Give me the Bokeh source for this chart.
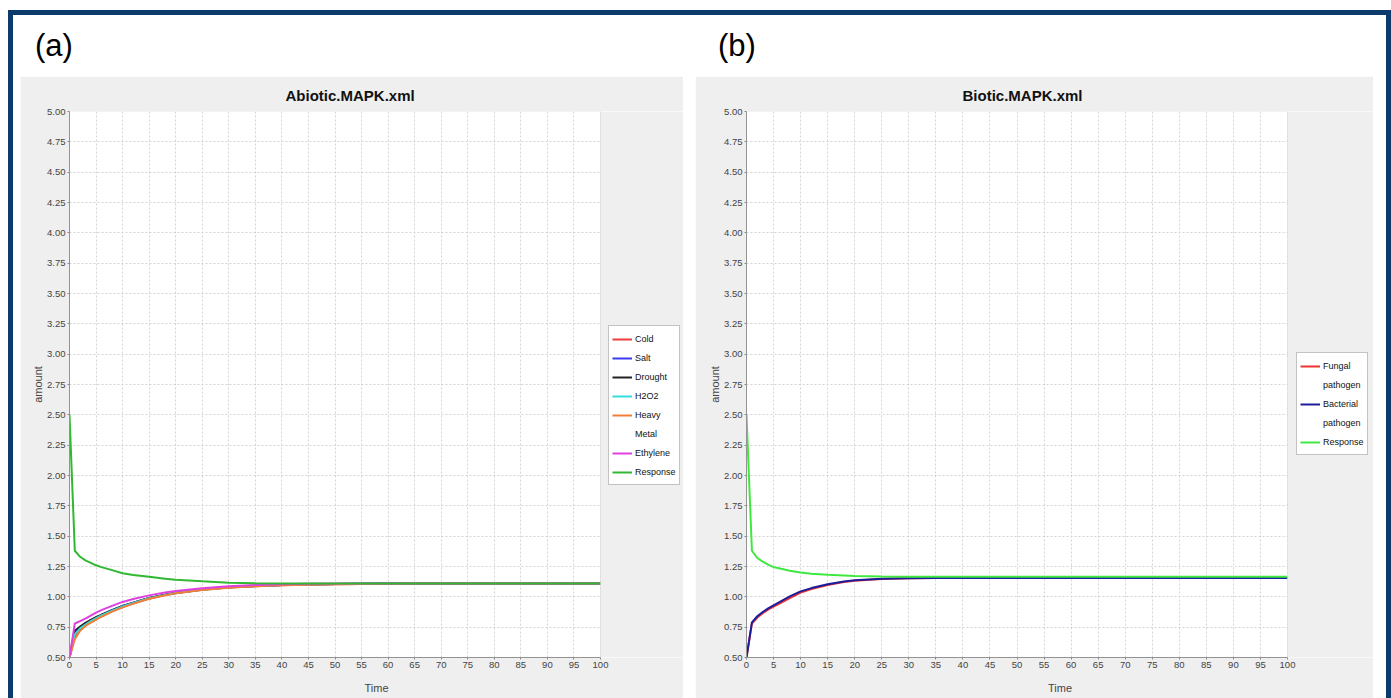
from bokeh.plotting import figure
from bokeh.models import (FixedTicker, NumeralTickFormatter, Legend, LegendItem,
                          Div, Title, Range1d, BoxAnnotation)
from bokeh.layouts import column, row
from bokeh.embed import file_html
from bokeh.resources import INLINE

# ---------------- data ----------------
time = [0, 1, 2, 3, 4, 5, 6, 8, 10, 12, 15, 18, 20, 25, 30, 35, 40, 45, 50,
        55, 60, 65, 70, 75, 80, 85, 90, 95, 100]

cold = [0.50, 0.67, 0.73, 0.765, 0.79, 0.815, 0.84, 0.88, 0.915, 0.945, 0.985, 1.015, 1.03, 1.058,
        1.076, 1.088, 1.096, 1.101, 1.104, 1.106, 1.108, 1.109, 1.11, 1.11, 1.11, 1.11, 1.11, 1.11, 1.11]
salt = [0.50, 0.71, 0.75, 0.78, 0.805, 0.83, 0.85, 0.89, 0.925, 0.952, 0.99, 1.018, 1.033, 1.06,
        1.078, 1.09, 1.098, 1.102, 1.105, 1.107, 1.109, 1.11, 1.11, 1.11, 1.11, 1.11, 1.11, 1.11, 1.11]
drought = [0.50, 0.72, 0.755, 0.785, 0.81, 0.832, 0.852, 0.89, 0.924, 0.952, 0.99, 1.017, 1.032, 1.06,
           1.078, 1.09, 1.097, 1.102, 1.105, 1.107, 1.109, 1.11, 1.11, 1.11, 1.11, 1.11, 1.11, 1.11, 1.11]
h2o2 = [0.50, 0.69, 0.74, 0.772, 0.80, 0.825, 0.847, 0.886, 0.92, 0.95, 0.988, 1.016, 1.031, 1.059,
        1.077, 1.089, 1.097, 1.102, 1.105, 1.107, 1.109, 1.11, 1.11, 1.11, 1.11, 1.11, 1.11, 1.11, 1.11]
heavy_metal = [0.50, 0.65, 0.72, 0.76, 0.787, 0.812, 0.836, 0.878, 0.913, 0.944, 0.984, 1.013, 1.029, 1.057,
               1.075, 1.087, 1.095, 1.10, 1.104, 1.106, 1.108, 1.109, 1.11, 1.11, 1.11, 1.11, 1.11, 1.11, 1.11]
ethylene = [0.50, 0.78, 0.80, 0.82, 0.845, 0.87, 0.89, 0.925, 0.958, 0.982, 1.012, 1.036, 1.049, 1.071,
            1.088, 1.098, 1.104, 1.107, 1.109, 1.11, 1.11, 1.11, 1.11, 1.11, 1.11, 1.11, 1.11, 1.11, 1.11]
response_a = [2.50, 1.38, 1.33, 1.30, 1.28, 1.26, 1.245, 1.22, 1.195, 1.18, 1.165, 1.15, 1.14, 1.128,
              1.117, 1.112, 1.11, 1.11, 1.11, 1.11, 1.11, 1.11, 1.11, 1.11, 1.11, 1.11, 1.11, 1.11, 1.11]

fungal = [0.50, 0.78, 0.83, 0.865, 0.895, 0.92, 0.942, 0.99, 1.035, 1.065, 1.098, 1.122, 1.133, 1.147,
          1.153, 1.155, 1.155, 1.155, 1.155, 1.155, 1.155, 1.155, 1.155, 1.155, 1.155, 1.155, 1.155, 1.155, 1.155]
bacterial = [0.50, 0.79, 0.84, 0.875, 0.905, 0.93, 0.955, 1.003, 1.045, 1.072, 1.103, 1.126, 1.136, 1.149,
             1.154, 1.156, 1.156, 1.156, 1.156, 1.156, 1.156, 1.156, 1.156, 1.156, 1.156, 1.156, 1.156, 1.156, 1.156]
response_b = [2.50, 1.38, 1.32, 1.29, 1.265, 1.245, 1.235, 1.215, 1.20, 1.19, 1.182, 1.176, 1.172, 1.168,
              1.166, 1.165, 1.165, 1.165, 1.165, 1.165, 1.165, 1.165, 1.165, 1.165, 1.165, 1.165, 1.165, 1.165, 1.165]

x_ticks = list(range(0, 101, 5))
y_ticks = [0.50, 0.75, 1.00, 1.25, 1.50, 1.75, 2.00, 2.25, 2.50, 2.75, 3.00, 3.25, 3.50,
           3.75, 4.00, 4.25, 4.50, 4.75, 5.00]
X_MIN, X_MAX = 0, 100
Y_MIN, Y_MAX = 0.5, 5.0

# (legend label lines, values, colour); a second label line is shown as its own legend row
abiotic_series = [(["Cold"], cold, "#ee3b3b"), (["Salt"], salt, "#3a3af0"), (["Drought"], drought, "#222222"),
                  (["H2O2"], h2o2, "#33dddd"), (["Heavy", "Metal"], heavy_metal, "#f08038"),
                  (["Ethylene"], ethylene, "#e040e0"), (["Response"], response_a, "#30b830")]
biotic_series = [(["Fungal", "pathogen"], fungal, "#ee3333"), (["Bacterial", "pathogen"], bacterial, "#1c1c9c"),
                 (["Response"], response_b, "#3fe83f")]

FONT = "Liberation Sans"
PANEL = "#efefef"


def make_panel(title, series, width, left, frame_w, legend_loc):
    # the frame extends right to the panel edge so that the legend can sit beside the plot;
    # the part beyond X_MAX is covered with the panel colour
    x_end = X_MAX * (width - left) / frame_w
    p = figure(width=width, height=622, x_range=Range1d(X_MIN, x_end), y_range=Range1d(Y_MIN, Y_MAX),
               output_backend="svg", toolbar_location=None,
               min_border_left=left, min_border_right=0,
               min_border_top=35, min_border_bottom=41,
               background_fill_color="white", border_fill_color=PANEL,
               outline_line_color=None, x_axis_label="Time", y_axis_label="amount")
    p.title = Title(text=title, align="left", offset=216, text_font_size="15px",
                    text_font_style="bold", text_color="#111111", text_font=FONT, standoff=15)
    p.xaxis.ticker = FixedTicker(ticks=x_ticks)
    p.xaxis.bounds = (X_MIN, X_MAX)
    p.yaxis.ticker = FixedTicker(ticks=y_ticks)
    p.yaxis.formatter = NumeralTickFormatter(format="0.00")
    for ax in (p.xaxis, p.yaxis):
        ax.major_label_text_font = FONT
        ax.major_label_text_font_size = "9.5px"
        ax.major_label_text_color = "#444444"
        ax.axis_label_text_font = FONT
        ax.axis_label_text_font_size = "11px"
        ax.axis_label_text_font_style = "normal"
        ax.axis_label_text_color = "#444444"
        ax.axis_line_color = "#8a8a8a"
        ax.major_tick_line_color = "#8a8a8a"
        ax.major_tick_out = 2
        ax.major_tick_in = 0
        ax.minor_tick_line_color = None
        ax.major_label_standoff = 2
    p.yaxis.axis_label_standoff = 0
    p.xaxis.axis_label_standoff = 11
    p.grid.grid_line_color = "#d4d4d4"
    p.grid.grid_line_dash = "2 2"

    p.add_layout(BoxAnnotation(left=X_MAX, fill_color=PANEL, fill_alpha=1.0, line_alpha=0))
    p.add_layout(BoxAnnotation(left=X_MIN, right=X_MAX, bottom=Y_MIN, top=Y_MAX, fill_alpha=0,
                               line_color="#c8c8c8", line_width=1))

    items = []
    for labels, vals, color in series:
        r = p.line(time, vals, line_color=color, line_width=2)
        items.append(LegendItem(label=labels[0], renderers=[r]))
        for extra in labels[1:]:
            ghost = p.line(time, vals, line_alpha=0)
            items.append(LegendItem(label=extra, renderers=[ghost]))
    leg = Legend(items=items, location=legend_loc, margin=0, padding=3, spacing=0,
                 glyph_width=20, glyph_height=10, label_standoff=3, label_width=40,
                 label_height=19, label_text_font=FONT, label_text_font_size="9px",
                 label_text_color="#111111",
                 border_line_color="#888888", background_fill_color="white",
                 background_fill_alpha=1.0)
    p.add_layout(leg)
    return p


p1 = make_panel("Abiotic.MAPK.xml", abiotic_series, 663, 49, 531, (539, 172))
p2 = make_panel("Biotic.MAPK.xml", biotic_series, 678, 51, 541, (550, 202))

header = Div(text=('<div style="position:relative;width:1373px;height:61px;'
                   'font-family:\'Liberation Sans\',sans-serif;font-size:31px;line-height:1;color:#000;">'
                   '<span style="position:absolute;left:22px;top:15px;">(a)</span>'
                   '<span style="position:absolute;left:705px;top:15px;">(b)</span></div>'),
             width=1373, height=61, margin=0)

figs = row(p1, p2, spacing=12, margin=(0, 0, 0, 7))
root = column(header, figs, margin=(10, 0, 0, 8),
              styles={"border-top": "5px solid #0b3a6b", "border-left": "5px solid #0b3a6b",
                      "border-right": "5px solid #0b3a6b", "background-color": "white"})

open("out.html", "w").write(file_html(root, INLINE))
